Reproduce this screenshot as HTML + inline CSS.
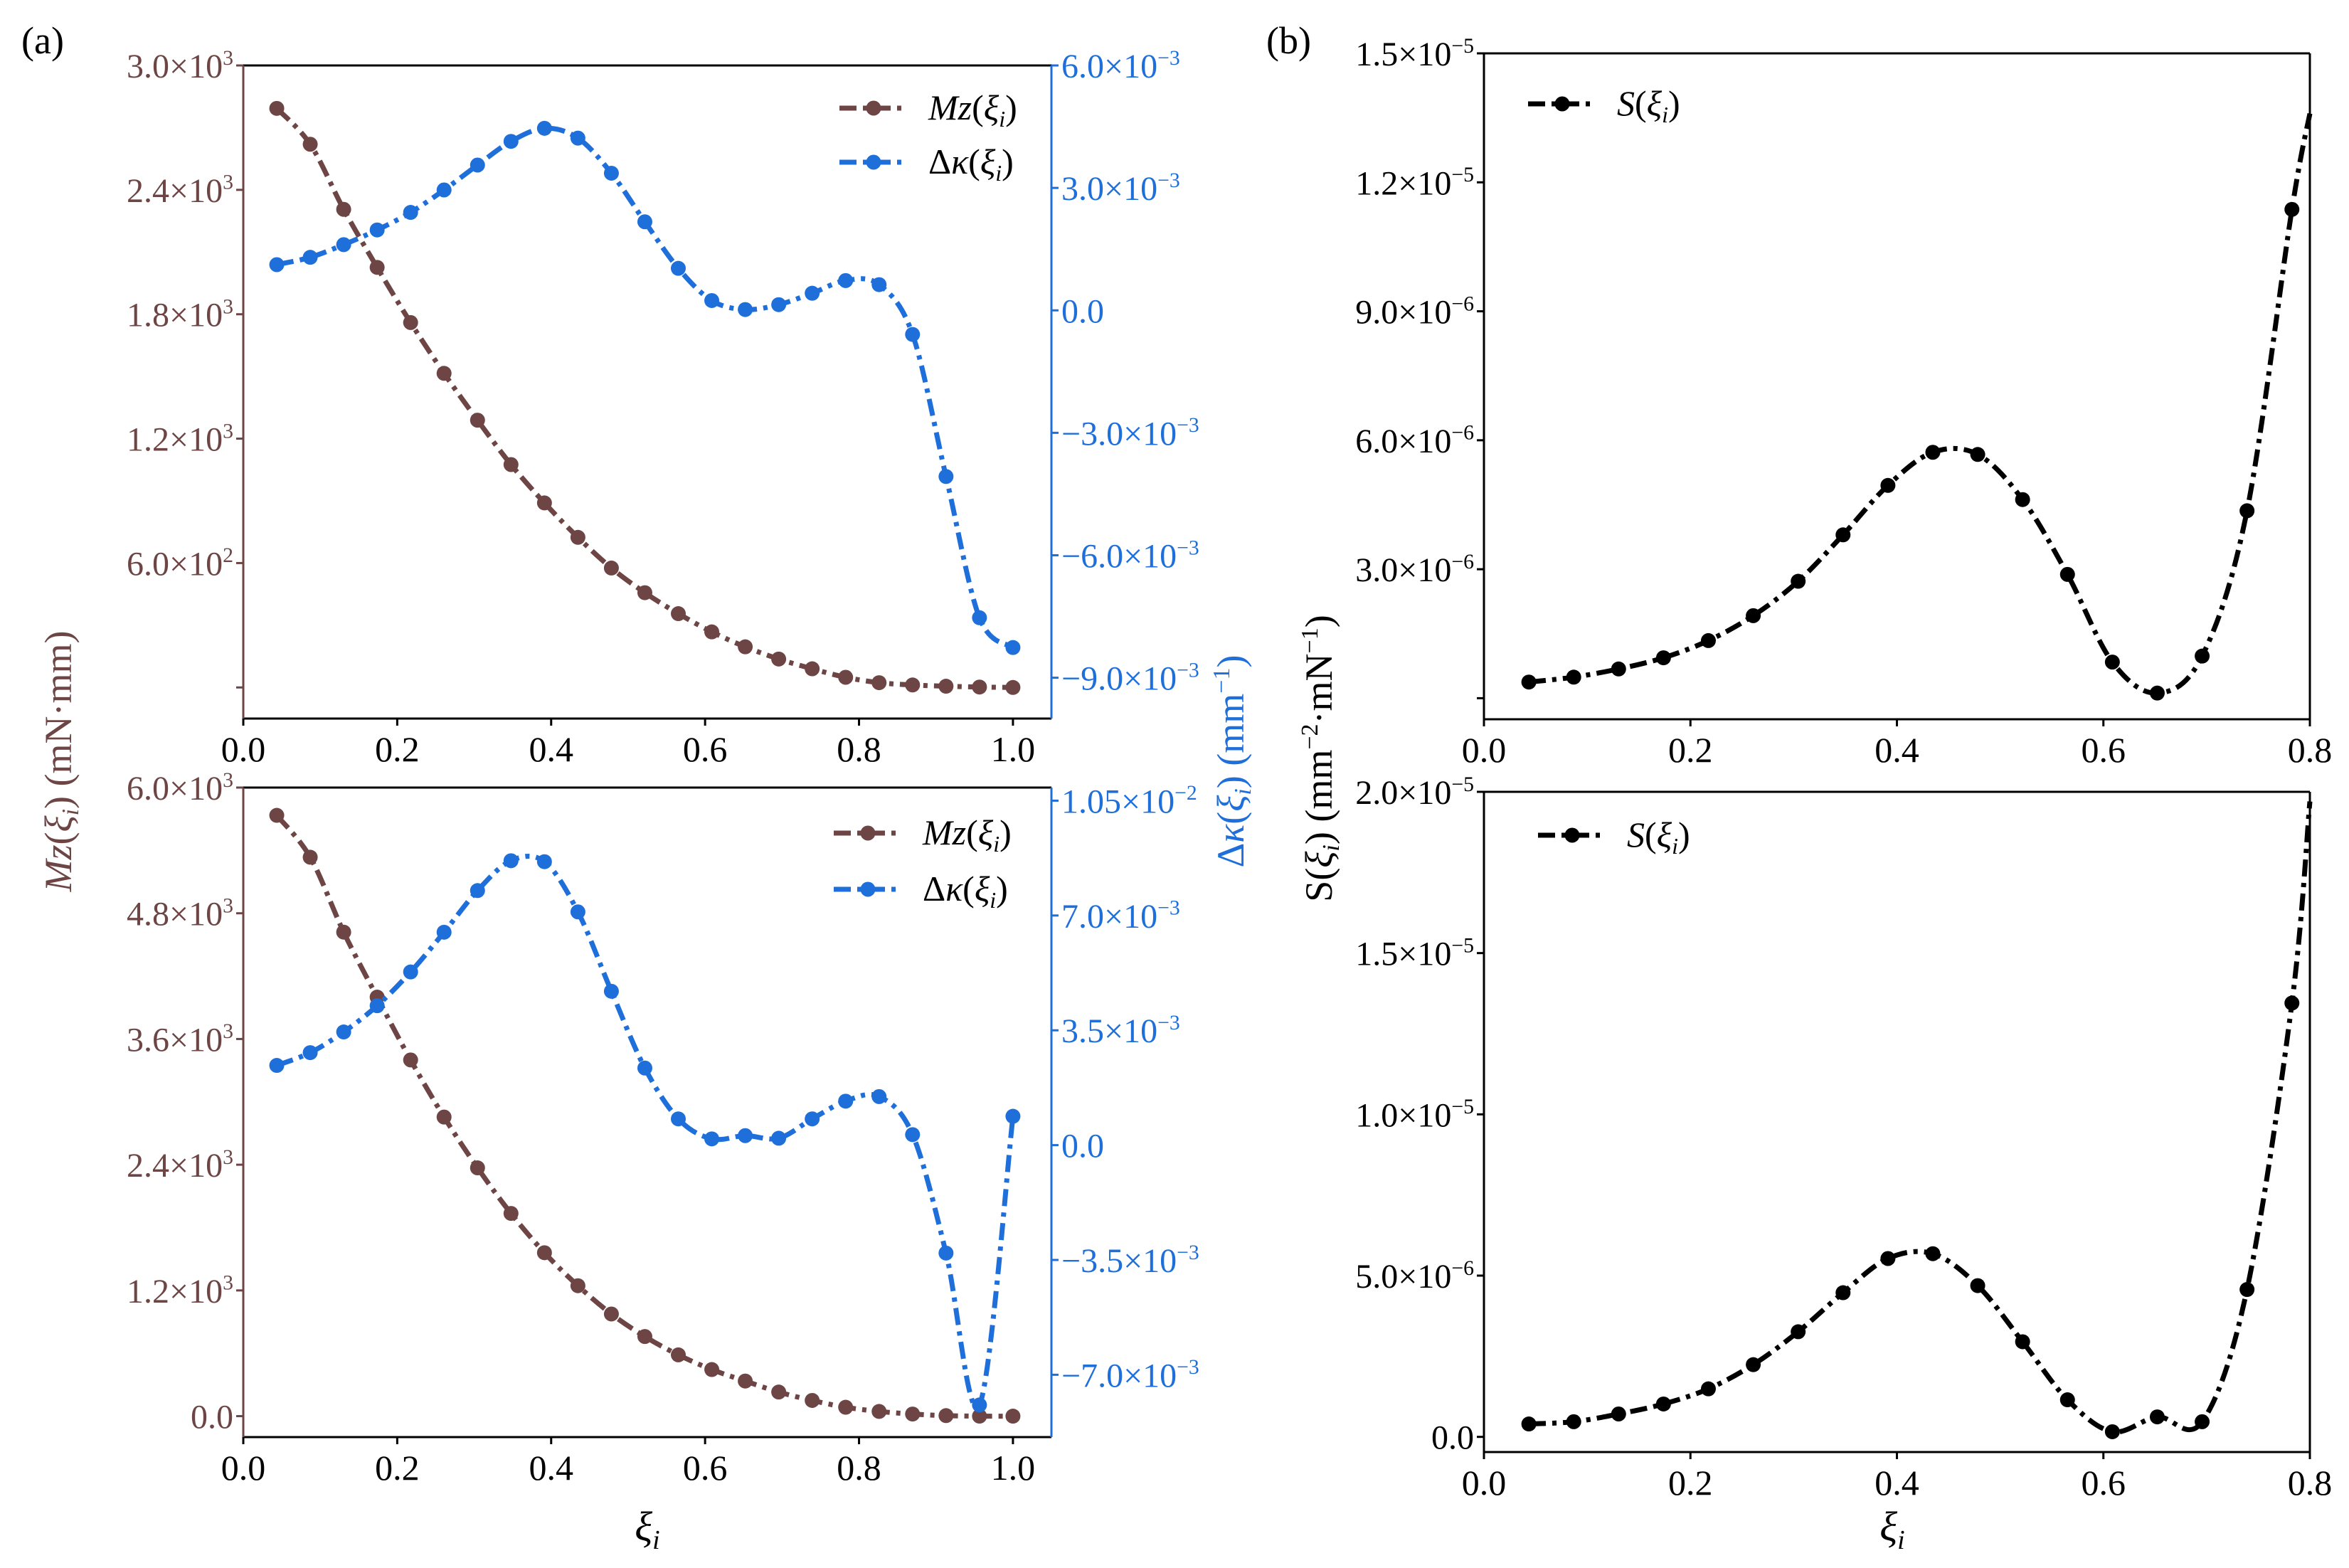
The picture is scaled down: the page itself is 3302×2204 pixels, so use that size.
<!DOCTYPE html>
<html><head><meta charset="utf-8">
<style>
html,body{margin:0;padding:0;background:#fff;}
svg{display:block;font-family:"Liberation Serif","Times New Roman",serif;}
svg text{font-family:"Liberation Serif","Times New Roman",serif;}
</style></head>
<body>
<svg id="fig" width="3302" height="2204" viewBox="0 0 3302 2204" xmlns="http://www.w3.org/2000/svg" font-family="Liberation Serif, serif">
<text x="30" y="75" font-size="54">(a)</text>
<text x="1780" y="75" font-size="54">(b)</text>
<text transform="translate(100,1070) rotate(-90)" text-anchor="middle" font-size="54" fill="#6e4545"><tspan font-style="italic">Mz</tspan>(<tspan font-style="italic">ξ</tspan><tspan font-size="34" dy="10" font-style="italic">i</tspan><tspan dy="-10">) (mN·mm)</tspan></text>
<text transform="translate(1748,1070) rotate(-90)" text-anchor="middle" font-size="54" fill="#1f6fdb">Δ<tspan font-style="italic">κ</tspan>(<tspan font-style="italic">ξ</tspan><tspan font-size="34" dy="10" font-style="italic">i</tspan><tspan dy="-10">) (mm</tspan><tspan font-size="34" dy="-20">−1</tspan><tspan dy="20">)</tspan></text>
<text transform="translate(1872,1066) rotate(-90)" text-anchor="middle" font-size="54" fill="#000">S(<tspan font-style="italic">ξ</tspan><tspan font-size="34" dy="10" font-style="italic">i</tspan><tspan dy="-10">) (mm</tspan><tspan font-size="34" dy="-20">−2</tspan><tspan dy="20">·mN</tspan><tspan font-size="34" dy="-20">−1</tspan><tspan dy="20">)</tspan></text>
<text x="910" y="2165" text-anchor="middle" font-size="58" font-style="italic">ξ<tspan font-size="38" dy="12">i</tspan></text>
<text x="2660" y="2165" text-anchor="middle" font-size="58" font-style="italic">ξ<tspan font-size="38" dy="12">i</tspan></text>
</svg>
<script>
// ---- data ----
const xsA = [1,2,3,4,5,6,7,8,9,10,11,12,13,14,15,16,17,18,19,20,21,22,23].map(i=>i/23);
const mzTop = [2793,2620,2306,2026,1760,1515,1289,1075,890,724,576,457,356,268,196,137,90,49,23,12,6,2,0];
const dkTop = [1.12e-3,1.30e-3,1.61e-3,1.97e-3,2.40e-3,2.95e-3,3.56e-3,4.14e-3,4.46e-3,4.22e-3,3.36e-3,2.17e-3,1.03e-3,0.24e-3,0.02e-3,0.14e-3,0.42e-3,0.73e-3,0.63e-3,-0.59e-3,-4.07e-3,-7.53e-3,-8.26e-3];
const mzBot = [5735,5335,4620,4000,3400,2855,2370,1935,1560,1245,975,760,585,445,335,230,150,85,45,20,5,0,0];
const dkBot = [2.43e-3,2.82e-3,3.45e-3,4.25e-3,5.28e-3,6.49e-3,7.76e-3,8.67e-3,8.64e-3,7.11e-3,4.69e-3,2.35e-3,0.80e-3,0.19e-3,0.29e-3,0.21e-3,0.80e-3,1.34e-3,1.48e-3,0.32e-3,-3.29e-3,-7.92e-3,0.88e-3];
const xsB = [1,2,3,4,5,6,7,8,9,10,11,12,13,14,15,16,17,18].map(i=>i/23);
const sTop = [0.375e-6,0.49e-6,0.68e-6,0.94e-6,1.34e-6,1.92e-6,2.72e-6,3.80e-6,4.95e-6,5.72e-6,5.67e-6,4.62e-6,2.88e-6,0.84e-6,0.12e-6,0.98e-6,4.36e-6,11.37e-6];
const sTopEnd = 13.6e-6;
const sBot = [0.40e-6,0.47e-6,0.71e-6,1.02e-6,1.49e-6,2.24e-6,3.26e-6,4.47e-6,5.53e-6,5.68e-6,4.69e-6,2.95e-6,1.15e-6,0.16e-6,0.62e-6,0.47e-6,4.57e-6,13.45e-6];
const sBotEnd = 19.7e-6;
const xTicksA = [0,0.2,0.4,0.6,0.8,1.0];
const xTickLabelsA = ["0.0","0.2","0.4","0.6","0.8","1.0"];
const xTicksB = [0,0.2,0.4,0.6,0.8];
const xTickLabelsB = ["0.0","0.2","0.4","0.6","0.8"];
const mzTopTicks = [0,600,1200,1800,2400,3000];
const mzTopLabels = ["","6.0×10|2","1.2×10|3","1.8×10|3","2.4×10|3","3.0×10|3"];
const dkTopTicks = [-9e-3,-6e-3,-3e-3,0,3e-3,6e-3];
const dkTopLabels = ["−9.0×10|−3","−6.0×10|−3","−3.0×10|−3","0.0","3.0×10|−3","6.0×10|−3"];
const mzBotTicks = [0,1200,2400,3600,4800,6000];
const mzBotLabels = ["0.0","1.2×10|3","2.4×10|3","3.6×10|3","4.8×10|3","6.0×10|3"];
const dkBotTicks = [-7e-3,-3.5e-3,0,3.5e-3,7e-3,1.05e-2];
const dkBotLabels = ["−7.0×10|−3","−3.5×10|−3","0.0","3.5×10|−3","7.0×10|−3","1.05×10|−2"];
const sTopTicks = [0,3e-6,6e-6,9e-6,1.2e-5,1.5e-5];
const sTopLabels = ["","3.0×10|−6","6.0×10|−6","9.0×10|−6","1.2×10|−5","1.5×10|−5"];
const sBotTicks = [0,5e-6,1e-5,1.5e-5,2e-5];
const sBotLabels = ["0.0","5.0×10|−6","1.0×10|−5","1.5×10|−5","2.0×10|−5"];

const BROWN="#6e4545", BLUE="#1f6fdb", BLACK="#000";
const NS="http://www.w3.org/2000/svg";
const svg=document.getElementById('fig');
function mk(tag,attrs,parent){const e=document.createElementNS(NS,tag);for(const k in attrs)e.setAttribute(k,attrs[k]);(parent||svg).appendChild(e);return e;}
function scale(d0,d1,r0,r1){return v=>r0+(v-d0)/(d1-d0)*(r1-r0);}
function smooth(pts){
  let d=`M${pts[0][0]},${pts[0][1]}`;
  for(let i=0;i<pts.length-1;i++){
    const p0=pts[Math.max(0,i-1)],p1=pts[i],p2=pts[i+1],p3=pts[Math.min(pts.length-1,i+2)];
    const c1=[p1[0]+(p2[0]-p0[0])/6,p1[1]+(p2[1]-p0[1])/6];
    const c2=[p2[0]-(p3[0]-p1[0])/6,p2[1]-(p3[1]-p1[1])/6];
    d+=` C${c1[0]},${c1[1]} ${c2[0]},${c2[1]} ${p2[0]},${p2[1]}`;
  }
  return d;
}
function tickLabel(x,y,lbl,anchor,color,size){
  const t=mk('text',{x:x,y:y,'text-anchor':anchor,'font-size':size,fill:color});
  
  
  const parts=lbl.split('|');
  t.textContent=parts[0];
  if(parts[1]){const s=mk('tspan',{'font-size':size*0.62,dy:-size*0.38},t);s.textContent=parts[1];}
  return t;
}
function series(g,xs,ys,sx,sy,color,name,extra){
  const pts=xs.map((x,i)=>[sx(x),sy(ys[i])]);
  const linePts=extra?pts.concat([[sx(extra[0]),sy(extra[1])]]):pts;
  const p=mk('path',{d:smooth(linePts),fill:'none',stroke:color,'stroke-width':7,'stroke-dasharray':'24 9 6 9'},g);
  
  
  pts.forEach(pt=>{
    const c=mk('circle',{cx:pt[0],cy:pt[1],r:10.5,fill:color},g);
    
    
  });
}
function legend(x,y,color,html){
  const l=mk('line',{x1:x,y1:y,x2:x+95,y2:y,stroke:color,'stroke-width':7,'stroke-dasharray':'24 9 6 9'});
  
  
  const c=mk('circle',{cx:x+48,cy:y,r:10.5,fill:color});
  
  
  const t=mk('text',{x:x+125,y:y+16,'font-size':50});
  
  
  t.innerHTML=html;
}
function panel(cfg){
  const g=mk('g',{});
  
  
  const {L,R,T,B}=cfg;
  const sx=scale(cfg.xlim[0],cfg.xlim[1],L,R);
  const syL=scale(cfg.yl[0],cfg.yl[1],B,T);
  cfg.xt.forEach((v,i)=>{
    const x=sx(v);
    mk('line',{x1:x,y1:B,x2:x,y2:B+10,stroke:'#000','stroke-width':3},g);
    tickLabel(x,B+60,cfg.xtl[i],'middle','#000',50);
  });
  cfg.ylt.forEach((v,i)=>{
    const y=syL(v);
    mk('line',{x1:L,y1:y,x2:L-10,y2:y,stroke:cfg.lc,'stroke-width':3},g);
    if(cfg.yll[i])tickLabel(L-14,y+17,cfg.yll[i],'end',cfg.lc,48);
  });
  let syR=null;
  if(cfg.yr){
    syR=scale(cfg.yr[0],cfg.yr[1],B,T);
    cfg.yrt.forEach((v,i)=>{
      const y=syR(v);
      mk('line',{x1:R,y1:y,x2:R+10,y2:y,stroke:BLUE,'stroke-width':3},g);
      tickLabel(R+14,y+17,cfg.yrl[i],'start',BLUE,48);
    });
  }
  cfg.draw(g,sx,syL,syR);
  mk('line',{x1:L,y1:T,x2:R,y2:T,stroke:'#000','stroke-width':3},g);
  mk('line',{x1:L,y1:B,x2:R,y2:B,stroke:'#000','stroke-width':3},g);
  mk('line',{x1:L,y1:T,x2:L,y2:B,stroke:cfg.lc,'stroke-width':3},g);
  mk('line',{x1:R,y1:T,x2:R,y2:B,stroke:cfg.yr?BLUE:'#000','stroke-width':3},g);
}
const subI='(<tspan font-style="italic">ξ</tspan><tspan font-size="32" dy="10" font-style="italic">i</tspan><tspan dy="-10">)</tspan>';
panel({name:'panel-a-top',L:342,R:1478,T:92,B:1010,xlim:[0,1.05],xt:xTicksA,xtl:xTickLabelsA,
  yl:[-150,3000],ylt:mzTopTicks,yll:mzTopLabels,lc:BROWN,yr:[-0.01,0.006],yrt:dkTopTicks,yrl:dkTopLabels,
  draw:(g,sx,sy,sr)=>{series(g,xsA,mzTop,sx,sy,BROWN,'mz-top');series(g,xsA,dkTop,sx,sr,BLUE,'dk-top');}});
panel({name:'panel-a-bottom',L:342,R:1478,T:1107,B:2020,xlim:[0,1.05],xt:xTicksA,xtl:xTickLabelsA,
  yl:[-200,6000],ylt:mzBotTicks,yll:mzBotLabels,lc:BROWN,yr:[-0.0089,0.0109],yrt:dkBotTicks,yrl:dkBotLabels,
  draw:(g,sx,sy,sr)=>{series(g,xsA,mzBot,sx,sy,BROWN,'mz-bottom');series(g,xsA,dkBot,sx,sr,BLUE,'dk-bottom');}});
panel({name:'panel-b-top',L:2086,R:3247,T:75,B:1011,xlim:[0,0.8],xt:xTicksB,xtl:xTickLabelsB,
  yl:[-0.49e-6,1.5e-5],ylt:sTopTicks,yll:sTopLabels,lc:'#000',
  draw:(g,sx,sy)=>{series(g,xsB,sTop,sx,sy,BLACK,'s-top',[0.8,sTopEnd]);}});
panel({name:'panel-b-bottom',L:2086,R:3247,T:1113,B:2041,xlim:[0,0.8],xt:xTicksB,xtl:xTickLabelsB,
  yl:[-0.47e-6,2.0e-5],ylt:sBotTicks,yll:sBotLabels,lc:'#000',
  draw:(g,sx,sy)=>{series(g,xsB,sBot,sx,sy,BLACK,'s-bottom',[0.8,sBotEnd]);}});
legend(1180,152,BROWN,'<tspan font-style="italic">Mz</tspan>'+subI);
legend(1180,228,BLUE,'Δ<tspan font-style="italic">κ</tspan>'+subI);
legend(1172,1171,BROWN,'<tspan font-style="italic">Mz</tspan>'+subI);
legend(1172,1250,BLUE,'Δ<tspan font-style="italic">κ</tspan>'+subI);
legend(2148,146,BLACK,'<tspan font-style="italic">S</tspan>'+subI);
legend(2162,1174,BLACK,'<tspan font-style="italic">S</tspan>'+subI);
</script>
</body></html>
